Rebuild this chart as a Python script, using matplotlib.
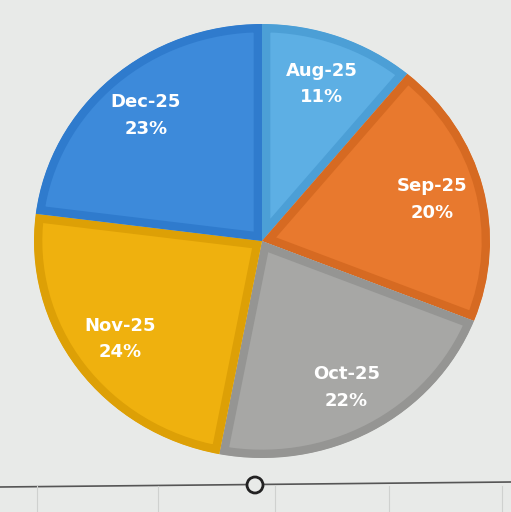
import matplotlib.pyplot as plt
from matplotlib.patches import Circle

months = ["Aug-25", "Sep-25", "Oct-25", "Nov-25", "Dec-25"]
shares = [11, 20, 22, 24, 23]
fills = ["#5DAFE4", "#E8792E", "#A7A7A5", "#EFB10E", "#3D8ADA"]
edges = ["#4C9FD6", "#D66A22", "#959593", "#DDA006", "#2F7BCD"]

fig = plt.figure(figsize=(5.11, 5.12), dpi=100)
fig.patch.set_facecolor("#E8EAE8")

# background: grid line and handle below the chart (pixel coords)
bg = fig.add_axes([0, 0, 1, 1])
bg.set_xlim(0, 511)
bg.set_ylim(512, 0)
bg.axis("off")
bg.plot([0, 511], [487, 482], color="#555555", lw=1.2)
for x in [37, 158, 275, 389, 502]:
    bg.plot([x, x], [486, 512], color="#CFD1CF", lw=0.8)
bg.add_patch(Circle((255, 485), 8, facecolor="#E8EAE8", edgecolor="#222222", lw=2, zorder=3))

ax = fig.add_axes([34 / 511, 54 / 512, 456 / 511, 434 / 512])
ax.patch.set_alpha(0)
labels = [f"{m}\n{s}%" for m, s in zip(months, shares)]
wedges, texts = ax.pie(shares, colors=fills, startangle=90, counterclock=False,
                       labels=labels, labeldistance=0.77,
                       textprops=dict(color="white", fontsize=13, fontweight="bold",
                                      linespacing=1.6))
for w, ec in zip(wedges, edges):
    w.set_edgecolor(ec)
    w.set_linewidth(12)
    w.set_clip_on(True)
    w.set_clip_path(w)
for t in texts:
    t.set_horizontalalignment("center")
    t.set_verticalalignment("center")
ax.set_aspect("auto")
ax.set_xlim(-1, 1)
ax.set_ylim(-1, 1)
ax.axis("off")

fig.savefig("out.png", dpi=100, facecolor=fig.get_facecolor())
